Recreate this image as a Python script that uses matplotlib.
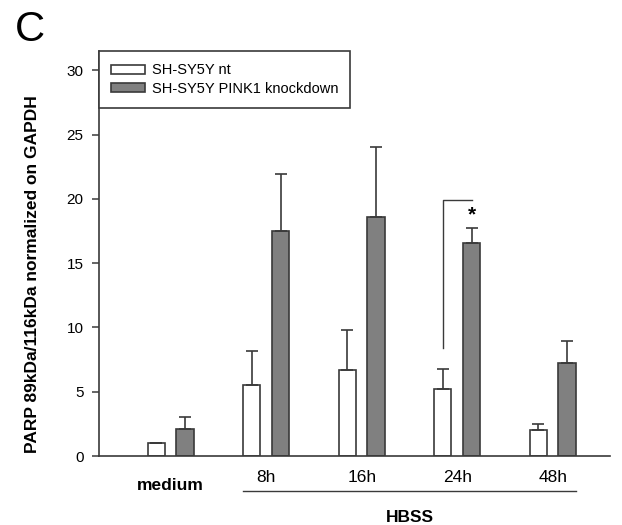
import matplotlib
matplotlib.use("Agg")
import matplotlib.pyplot as plt
import numpy as np

plt.rcParams['font.family'] = ['Liberation Sans', 'DejaVu Sans']

groups = ['medium', '8h', '16h', '24h', '48h']
nt_mean = [1.0, 5.5, 6.7, 5.25, 2.0]
nt_err = [0.0, 2.7, 3.1, 1.55, 0.5]
kd_mean = [2.1, 17.5, 18.6, 16.6, 7.2]
kd_err = [0.95, 4.4, 5.4, 1.1, 1.75]
series_labels = ['SH-SY5Y nt', 'SH-SY5Y PINK1 knockdown']

dark = '#3a3a3a'
x = np.arange(len(groups))
w = 0.18
off = 0.15

fig = plt.figure(figsize=(6.22, 5.25), dpi=100)
ax = fig.add_axes([99/622, 1-456/525, (610-99)/622, (456-51)/525])

ax.bar(x - off, nt_mean, w, color='white', edgecolor=dark, linewidth=1.2,
       yerr=[np.zeros(5), nt_err], error_kw=dict(ecolor=dark, elinewidth=1.2, capsize=4, capthick=1.2),
       label=series_labels[0])
ax.bar(x + off, kd_mean, w, color='#808080', edgecolor=dark, linewidth=1.2,
       yerr=[np.zeros(5), kd_err], error_kw=dict(ecolor=dark, elinewidth=1.2, capsize=4, capthick=1.2),
       label=series_labels[1])

ax.set_xlim(-0.751, 4.60)
ax.set_ylim(0, 31.5)
ax.set_yticks([0, 5, 10, 15, 20, 25, 30])
ax.tick_params(axis='y', labelsize=11, length=5, width=1.1, color=dark, pad=6)
ax.set_xticks([])
for s in ['top', 'right']:
    ax.spines[s].set_visible(False)
for s in ['left', 'bottom']:
    ax.spines[s].set_color(dark)
    ax.spines[s].set_linewidth(1.2)

ax.set_ylabel('PARP 89kDa/116kDa normalized on GAPDH', fontsize=12.5, fontweight='bold')
ax.yaxis.set_label_coords(-0.115, 0.45)

# significance bracket at 24h
ax.plot([3 - off, 3 - off, 3 + off], [8.4, 19.95, 19.95], color=dark, lw=1.0)
ax.text(3 + off, 18.0, '*', ha='center', va='bottom', fontsize=15, fontweight='bold')

tr = ax.get_xaxis_transform()
ax.text(0, -0.072, 'medium', transform=tr, ha='center', va='center', fontsize=12.5, fontweight='bold')
for i in range(1, 5):
    ax.text(i, -0.054, groups[i], transform=tr, ha='center', va='center', fontsize=12.5)
ax.plot([1 - off - w/2, 4 + off + w/2], [-0.0864, -0.0864], transform=tr, color=dark, lw=1.0, clip_on=False)
ax.text(2.5, -0.153, 'HBSS', transform=tr, ha='center', va='center', fontsize=12.5, fontweight='bold')

leg = ax.legend(loc='upper left', bbox_to_anchor=(0, 1), borderaxespad=0, fancybox=False,
                edgecolor=dark, framealpha=1, fontsize=10.5, handlelength=2.3, handleheight=0.6,
                borderpad=0.85, labelspacing=0.3, handletextpad=0.45)
leg.get_frame().set_linewidth(1.2)

fig.text(15/622, 1-30/525, 'C', fontsize=30, va='center', ha='left')

fig.savefig('out.png', dpi=100)
